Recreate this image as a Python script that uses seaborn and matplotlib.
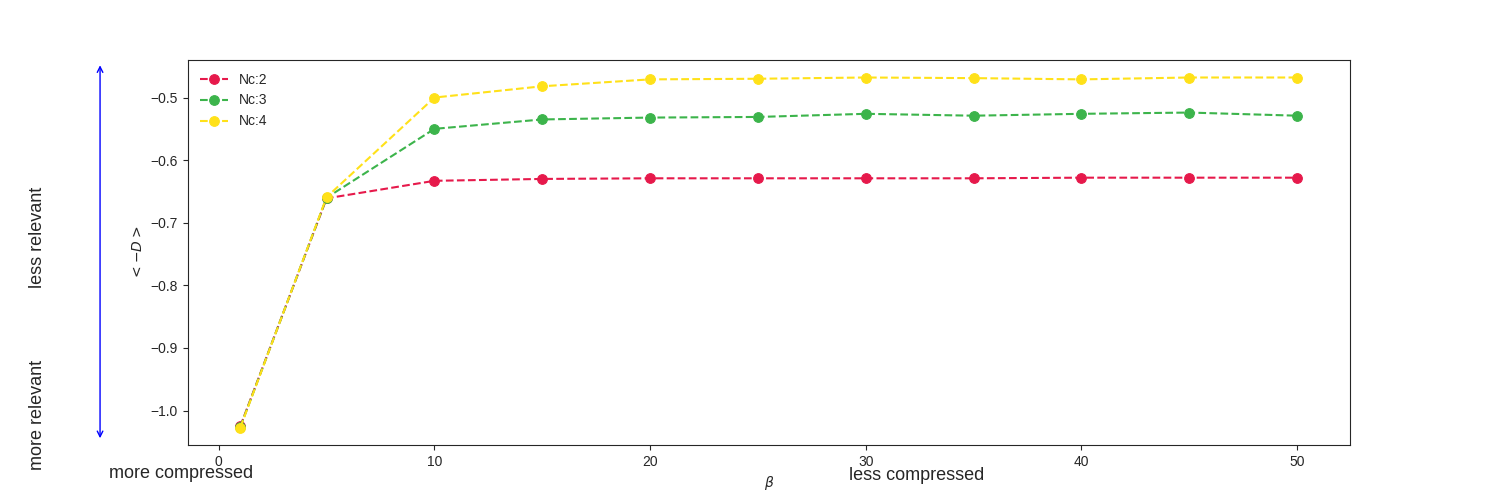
import matplotlib
matplotlib.use("Agg")
import matplotlib.pyplot as plt
import seaborn as sns
import pandas as pd

betas = [1, 5, 10, 15, 20, 25, 30, 35, 40, 45, 50]
nc2 = [-1.025, -0.661, -0.633, -0.630, -0.629, -0.629, -0.629, -0.629, -0.628, -0.628, -0.628]
nc3 = [-1.026, -0.660, -0.550, -0.535, -0.532, -0.531, -0.526, -0.529, -0.526, -0.524, -0.529]
nc4 = [-1.027, -0.659, -0.500, -0.482, -0.471, -0.470, -0.468, -0.469, -0.471, -0.468, -0.468]
labels = ["Nc:2", "Nc:3", "Nc:4"]
colors = ["#e6194b", "#3cb44b", "#ffe119"]

sns.set_style("ticks")
plt.rcParams['font.family'] = ['Liberation Sans', 'DejaVu Sans']

df = pd.DataFrame({"beta": betas * 3,
                   "D": nc2 + nc3 + nc4,
                   "series": sum([[l] * len(betas) for l in labels], [])})

fig, ax = plt.subplots(figsize=(15, 5), dpi=100)
for lab, col in zip(labels, colors):
    sub = df[df.series == lab]
    sns.lineplot(data=sub, x="beta", y="D", ax=ax, color=col, linestyle="--",
                 marker="o", markersize=7, markeredgecolor=col, label=lab)

ax.set_xlabel(r"$\beta$")
ax.set_ylabel(r"$<-D>$")
ax.legend(loc="upper left", frameon=False)

fig.text(0.121, 0.052, "more compressed", fontsize=13, ha="center", va="center")
fig.text(0.611, 0.048, "less compressed", fontsize=13, ha="center", va="center")
fig.text(0.025, 0.17, "more relevant", fontsize=13, rotation=90, ha="center", va="center")
fig.text(0.025, 0.525, "less relevant", fontsize=13, rotation=90, ha="center", va="center")
ax.annotate("", xy=(0.0667, 0.875), xytext=(0.0667, 0.118), xycoords="figure fraction",
            arrowprops=dict(arrowstyle="<->", color="blue"))
ax.annotate("", xy=(0.895, -0.008), xytext=(0.135, -0.008), xycoords="figure fraction",
            arrowprops=dict(arrowstyle="<->", color="blue"))

fig.savefig("out.png")
